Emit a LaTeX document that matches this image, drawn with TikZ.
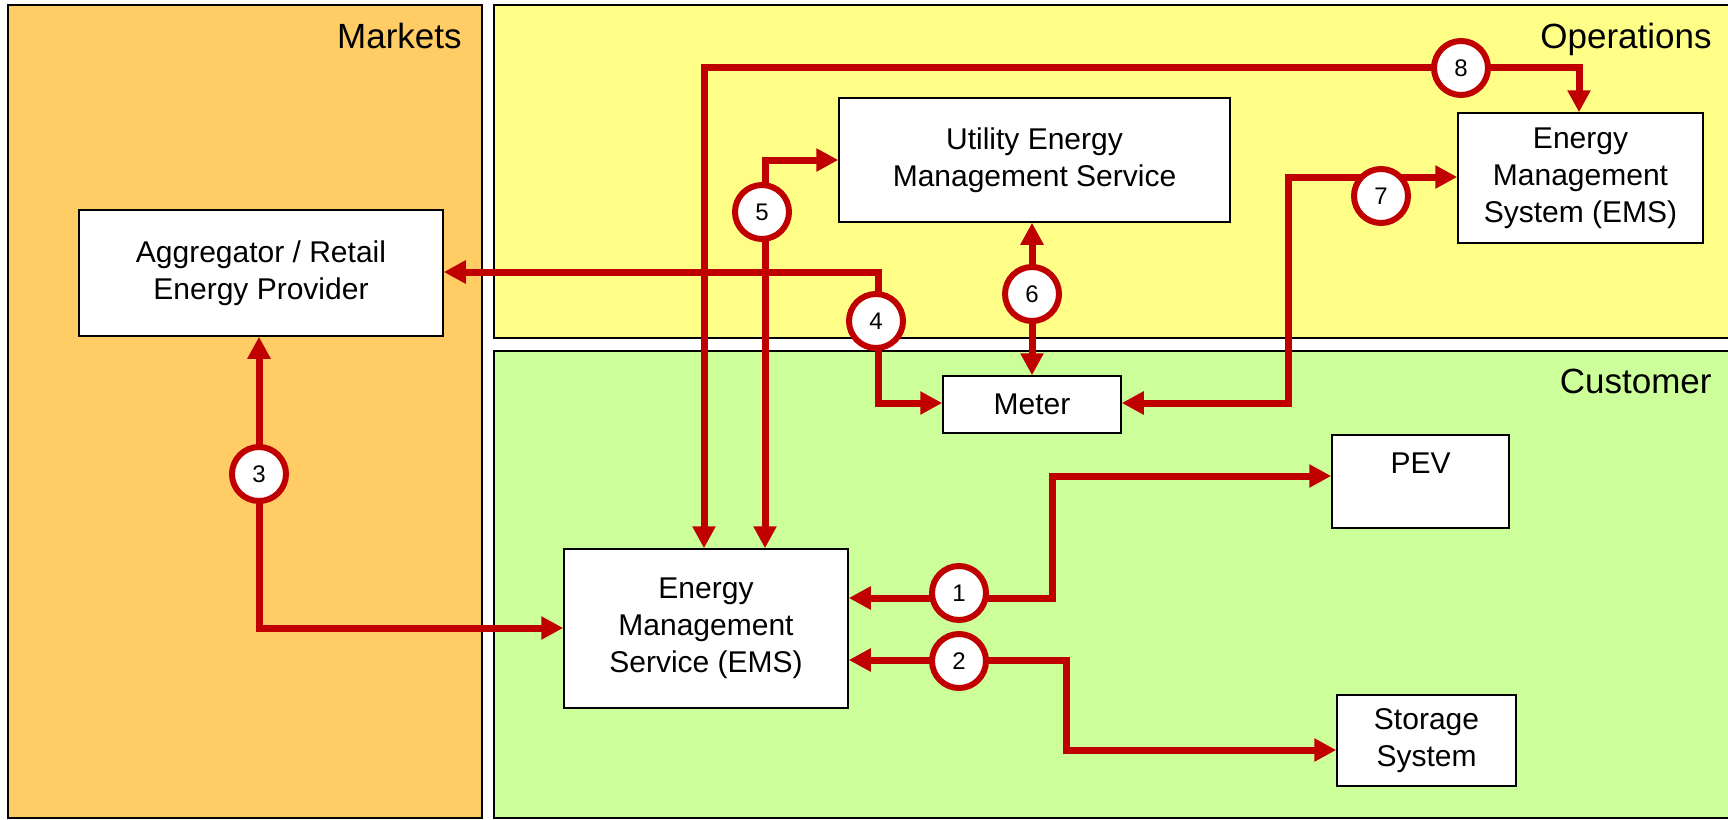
\documentclass[tikz,border=0pt]{standalone}
\usepackage{fontspec}
\setmainfont{Liberation Sans}
\usetikzlibrary{arrows.meta}
\definecolor{mkt}{HTML}{FFCC66}
\definecolor{ops}{HTML}{FFFF88}
\definecolor{cus}{HTML}{CCFF99}
\definecolor{lred}{HTML}{C00000}
\begin{document}
\begin{tikzpicture}[x=0.5pt,y=-0.5pt,
  panel/.style={draw=black,line width=0.75pt},
  box/.style={draw=black,fill=white,line width=0.75pt,align=center,inner sep=0pt,font=\fontsize{15}{18.5}\selectfont},
  conn/.style={draw=lred,line width=3.5pt,{Triangle[length=11pt,width=11pt]}-{Triangle[length=11pt,width=11pt]}},
  num/.style={circle,draw=lred,fill=white,line width=3pt,minimum size=27pt,inner sep=0pt,font=\fontsize{12}{14}\selectfont},
  title/.style={anchor=base east,inner sep=0pt,font=\fontsize{17.5}{21}\selectfont}]
\useasboundingbox (0,0) rectangle (1728,819);
\clip (0,0) rectangle (1728,819);
\fill[white] (0,0) rectangle (1728,819);
% panels
\draw[panel,fill=mkt] (8,5) rectangle (482,818);
\draw[panel,fill=ops] (494,5) rectangle (1740,338);
\draw[panel,fill=cus] (494,351) rectangle (1740,818);
\node[title] (tm) at (462,48) {Markets};
\node[title] (to) at (1712,48) {Operations};
\node[title] (tc) at (1712,393) {Customer};
% boxes
\node[box,minimum width=182pt,minimum height=63pt] (agg) at (261,273) {Aggregator / Retail\\Energy Provider};
\node[box,minimum width=195.5pt,minimum height=62pt] (ues) at (1034.5,160) {Utility Energy\\Management Service};
\node[box,minimum width=122.5pt,minimum height=65pt] (emsys) at (1580.5,178) {Energy\\Management\\System (EMS)};
\node[box,minimum width=89pt,minimum height=28.5pt] (meter) at (1032,404.5) {Meter};
\node[box,minimum width=142pt,minimum height=79.5pt] (ems) at (706,628.5) {Energy\\Management\\Service (EMS)};
\node[box,minimum width=88.5pt,minimum height=46.5pt] (pev) at (1420.5,481.5) {PEV\\~};
\node[box,minimum width=89.5pt,minimum height=45.5pt] (stor) at (1426.5,740.5) {Storage\\System};
% bend points
\coordinate (b1) at (1052,598);
\coordinate (b1t) at (1052,476);
\coordinate (b2) at (1066,660);
\coordinate (b2b) at (1066,750);
\coordinate (b3) at (259,628);
\coordinate (b4) at (878,272);
\coordinate (b4b) at (878,403);
\coordinate (b5) at (765,160);
\coordinate (b7) at (1288,403);
\coordinate (b7t) at (1288,177);
\coordinate (b8) at (704,67);
\coordinate (b8r) at (1579,67);
% connectors
\draw[conn] (ems.east |- b1) -- (b1) -- (b1t) -- (pev.west |- b1t);
\draw[conn] (ems.east |- b2) -- (b2) -- (b2b) -- (stor.west |- b2b);
\draw[conn] (agg.south -| b3) -- (b3) -- (ems.west |- b3);
\draw[conn] (agg.east |- b4) -- (b4) -- (b4b) -- (meter.west |- b4b);
\draw[conn] (ems.north -| b5) -- (b5) -- (ues.west |- b5);
\draw[conn] (ues.south -| meter.north) -- (meter.north);
\draw[conn] (meter.east |- b7) -- (b7) -- (b7t) -- (emsys.west |- b7t);
\draw[conn] (ems.north -| b8) -- (b8) -- (b8r) -- (emsys.north -| b8r);
% numbers
\node[num] (n1) at (959,593) {1};
\node[num] (n2) at (959,661) {2};
\node[num] (n3) at (259,474) {3};
\node[num] (n4) at (876,321) {4};
\node[num] (n5) at (762,212) {5};
\node[num] (n6) at (1032,294) {6};
\node[num] (n7) at (1381,196) {7};
\node[num] (n8) at (1461,68) {8};
\end{tikzpicture}
\end{document}
